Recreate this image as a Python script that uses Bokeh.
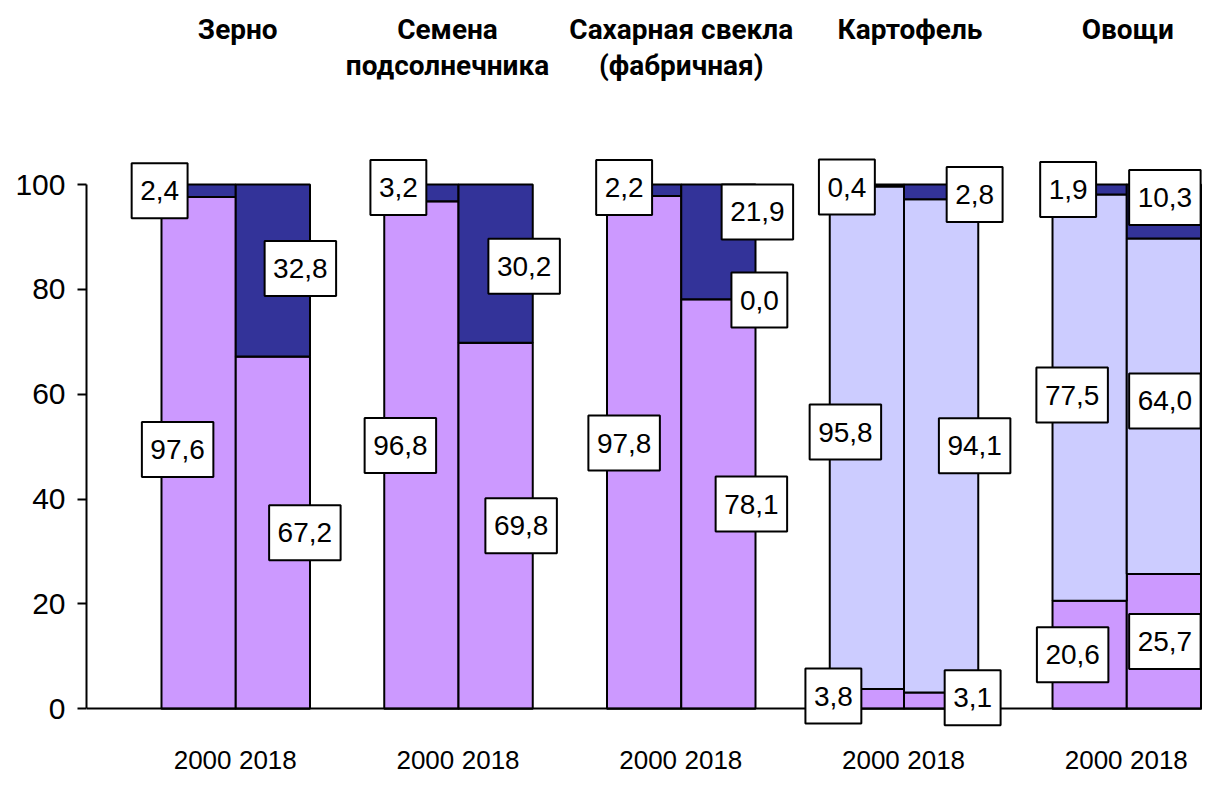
import numpy as np
from bokeh.plotting import figure
from bokeh.models import Range1d, FixedTicker
from bokeh.core.properties import value
from bokeh.embed import file_html
from bokeh.resources import INLINE

# ---------------- data ----------------
crops = ["Зерно", "Семена\nподсолнечника", "Сахарная свекла\n(фабричная)", "Картофель", "Овощи"]
years = ["2000", "2018"]
# one value per bar: crop0-2000, crop0-2018, crop1-2000, ...
share_bottom = [97.6, 67.2, 96.8, 69.8, 97.8, 78.1, 3.8, 3.1, 20.6, 25.7]
share_middle = [None, None, None, None, None, 0.0, 95.8, 94.1, 77.5, 64.0]
share_top = [2.4, 32.8, 3.2, 30.2, 2.2, 21.9, 0.4, 2.8, 1.9, 10.3]
y_ticks = [0, 20, 40, 60, 80, 100]

# ---------------- style / layout ----------------
COLORS = ["#CC99FF", "#CCCCFF", "#333399"]
W, H = 1202, 778
LEFT = 86
ZERO_PX = 708.3          # canvas y of value 0
PX_Y = 5.243             # pixels per percent
X_START, X_END = -0.01, 15.02
PX_X = (W - LEFT) / (X_END - X_START)
NUM_FONT = "Liberation Sans"
TITLE_FONT = "Roboto"

# label offsets (pixels): dx to the right, dy upward, per bar
LBL_DX = {
    0: [-21, 32, -21, 25.5, -20, 33, -33.5, 31.5, -17, 1],
    1: [0, 0, 0, 0, 0, 41, -21.5, 33.5, -17.5, 1],
    2: [-39, 27.5, -23, 28.5, -20, 39, -20, 33.5, -21.5, 1],
}
LBL_DY = {
    0: [3.4, 0, 9.5, 0, 9.4, 0, 2.8, 3, 0, 0],
    1: [0, 0, 0, 0, 0, -0.7, 5.7, 0, 2.6, 5.3],
    2: [0, 2, 5.4, -2.5, 2.8, 30, -1.5, -2.7, 0, 14],
}
TITLE_DX = [2, -11, 0, 6, 1]
TITLE_MID = 29
TITLE_LH = 36
YEAR_MID = 759
YEAR_DX = [4, -5]


def to_val(py):
    return (ZERO_PX - py) / PX_Y


p = figure(width=W, height=H, output_backend="svg", toolbar_location=None,
           x_range=Range1d(X_START, X_END),
           y_range=Range1d(to_val(H), to_val(0)),
           x_axis_type=None, min_border_left=LEFT, min_border_right=0,
           min_border_top=0, min_border_bottom=0)
p.outline_line_color = None
p.grid.visible = False
p.background_fill_color = "white"

# y axis
ax = p.yaxis[0]
ax.ticker = FixedTicker(ticks=y_ticks)
ax.bounds = (0, 100)
ax.axis_line_width = 2
ax.axis_line_color = "black"
ax.major_tick_line_width = 2
ax.major_tick_out = 9
ax.major_tick_in = 0
ax.minor_tick_line_color = None
ax.major_label_text_font = NUM_FONT
ax.major_label_text_font_size = "30px"
ax.major_label_text_color = "black"
ax.major_label_standoff = 12

# bar positions
n_groups = len(crops)
bar_x = []
for g in range(n_groups):
    for k in range(len(years)):
        bar_x.append(3 * g + 1 + k + 0.5)
bar_x = np.array(bar_x)

series = [np.array([np.nan if v is None else v for v in s], dtype=float)
          for s in (share_bottom, share_middle, share_top)]
raw = [share_bottom, share_middle, share_top]
base = np.zeros(len(bar_x))
stacks = []
for s in series:
    h = np.nan_to_num(s)
    stacks.append((base.copy(), base + h))
    base = base + h

for si, (b, t) in enumerate(stacks):
    p.vbar(x=bar_x, bottom=b, top=t, width=1.0, fill_color=COLORS[si],
           line_color="black", line_width=2)

# x axis line at 0
p.hspan(y=[0], line_color="black", line_width=2)

# data labels
lx, ly, lt, lw = [], [], [], []
for si, (b, t) in enumerate(stacks):
    for i in range(len(bar_x)):
        v = raw[si][i]
        if v is None:
            continue
        txt = f"{v:.1f}".replace(".", ",")
        mid = (b[i] + t[i]) / 2
        lx.append(bar_x[i] + LBL_DX[si][i] / PX_X)
        ly.append(mid + LBL_DY[si][i] / PX_Y)
        lt.append(txt)
        nd = sum(c.isdigit() for c in txt)
        lw.append(17 + 28 * (0.556 * nd + 0.278))

p.rect(x=lx, y=ly, width=lw, height=[55] * len(lx), width_units="screen",
       height_units="screen", fill_color="white", line_color="black", line_width=2)
p.text(x=lx, y=ly, text=lt, text_font=value(NUM_FONT), text_font_size="28px",
       text_align="center", text_baseline="middle", text_color="black")

# year labels
yx, yt = [], []
for i, xb in enumerate(bar_x):
    k = i % len(years)
    yx.append(xb + YEAR_DX[k] / PX_X)
    yt.append(years[k])
p.text(x=yx, y=[to_val(YEAR_MID)] * len(yx), text=yt, text_font=value(NUM_FONT),
       text_font_size="26px", text_align="center", text_baseline="middle",
       text_color="black")

# crop titles
tx, ty, tt = [], [], []
for g, name in enumerate(crops):
    for j, line in enumerate(name.split("\n")):
        tx.append(3 * g + 2 + TITLE_DX[g] / PX_X)
        ty.append(to_val(TITLE_MID + j * TITLE_LH))
        tt.append(line)
p.text(x=tx, y=ty, text=tt, text_font=value(TITLE_FONT), text_font_style="bold",
       text_font_size="28px", text_align="center", text_baseline="middle",
       text_color="black")

open("out.html", "w").write(file_html(p, INLINE))
